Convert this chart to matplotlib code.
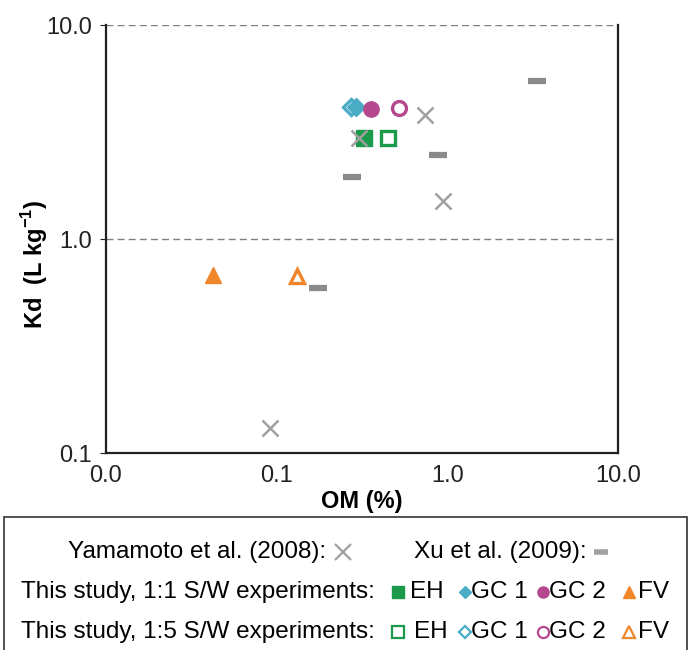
import matplotlib
matplotlib.use("Agg")
import matplotlib.pyplot as plt
from matplotlib.lines import Line2D
from matplotlib.patches import Rectangle
from matplotlib.ticker import FixedLocator, NullLocator

plt.rcParams['font.family'] = ['Liberation Sans', 'DejaVu Sans']

# Literature data
yamamoto_om = [0.091, 0.305, 0.74, 0.94]
yamamoto_kd = [0.131, 2.97, 3.79, 1.51]
xu_om = [3.35, 0.88, 0.276, 0.175]
xu_kd = [5.47, 2.47, 1.95, 0.59]

# This study (EH, GC 1, GC 2, FV)
soils = ["EH", "GC 1", "GC 2", "FV"]
om_11 = [0.325, 0.290, 0.356, 0.0424]
kd_11 = [2.97, 4.14, 4.05, 0.68]
om_15 = [0.449, 0.272, 0.52, 0.132]
kd_15 = [2.97, 4.14, 4.10, 0.67]

colors = ["#1a9a4a", "#4bacc6", "#b5478f", "#f0862a"]
markers = ["s", "D", "o", "^"]
sizes = [11, 9, 11, 11]

x_ticks = [0.01, 0.1, 1.0, 10.0]
x_labels = ["0.0", "0.1", "1.0", "10.0"]
y_ticks = [0.1, 1.0, 10.0]
y_labels = ["0.1", "1.0", "10.0"]

fig = plt.figure(figsize=(6.9, 6.5), dpi=100)
ax = fig.add_axes([106/690, 1 - 453/650, 512/690, 428/650])
ax.set_xscale('log')
ax.set_yscale('log')
ax.set_xlim(0.01, 10)
ax.set_ylim(0.1, 10)

for y in [1.0, 10.0]:
    ax.axhline(y, color='#808080', linestyle=(0, (5, 3)), linewidth=1, zorder=0)

ax.plot(yamamoto_om, yamamoto_kd, 'x', color='#a0a0a0', markersize=12, markeredgewidth=1.8, linestyle='none', zorder=6)
ax.plot(xu_om, xu_kd, linestyle='none', marker='_', color='#8a8a8a', markersize=12.5, markeredgewidth=4.5, zorder=3)

# 1:5 open markers first, filled on top
for i in range(4):
    ax.plot(om_15[i], kd_15[i], marker=markers[i], markersize=sizes[i] - 1, markerfacecolor='white',
            markeredgecolor=colors[i], markeredgewidth=2.4, linestyle='none', zorder=4)
for i in range(4):
    ax.plot(om_11[i], kd_11[i], marker=markers[i], markersize=sizes[i], color=colors[i],
            linestyle='none', zorder=5)

ax.xaxis.set_major_locator(FixedLocator(x_ticks))
ax.xaxis.set_minor_locator(NullLocator())
ax.set_xticklabels(x_labels)
ax.yaxis.set_major_locator(FixedLocator(y_ticks))
ax.yaxis.set_minor_locator(NullLocator())
ax.set_yticklabels(y_labels)
ax.tick_params(axis='x', length=0, labelsize=17, pad=9, colors='#222222')
ax.tick_params(axis='y', length=4, labelsize=17, pad=6, colors='#222222')
for s in ax.spines.values():
    s.set_linewidth(1.6)
    s.set_color('#222222')
ax.spines['top'].set_visible(False)

ax.set_xlabel('OM (%)', fontsize=17, fontweight='bold', labelpad=2)
ax.set_ylabel('Kd  (L kg$^{\\mathregular{-1}}$)', fontsize=17, fontweight='bold')
ax.yaxis.set_label_coords(-0.11, 0.44)

# Legend box
fig.add_artist(Rectangle((4/690, -0.01), 683/690, 1 - 517/650 + 0.01, transform=fig.transFigure,
                         fill=False, edgecolor='#333333', linewidth=1.2))


def fx(px):
    return px / 690


def fy(py):
    return 1 - py / 650


def legend_marker(px, py, **kw):
    fig.add_artist(Line2D([fx(px)], [fy(py)], transform=fig.transFigure, linestyle='none', **kw))


lfs = 17.5
r1, r2, r3 = 552, 592, 632
fig.text(fx(326), fy(r1), "Yamamoto et al. (2008):", ha='right', va='center', fontsize=lfs)
legend_marker(343, r1, marker='x', color='#a0a0a0', markersize=11, markeredgewidth=1.6)
fig.text(fx(587), fy(r1), "Xu et al. (2009):", ha='right', va='center', fontsize=lfs)
legend_marker(601, r1, marker='_', color='#a0a0a0', markersize=10, markeredgewidth=4)

fig.text(fx(375), fy(r2), "This study, 1:1 S/W experiments:", ha='right', va='center', fontsize=lfs)
fig.text(fx(375), fy(r3), "This study, 1:5 S/W experiments:", ha='right', va='center', fontsize=lfs)
marker_x = [398, 465, 543, 629]
label_x = [[410, 471, 549, 638], [414, 471, 549, 638]]
for i in range(4):
    legend_marker(marker_x[i], r2, marker=markers[i], color=colors[i], markersize=sizes[i] - 3)
    legend_marker(marker_x[i], r3, marker=markers[i], markerfacecolor='white', markeredgecolor=colors[i],
                  markeredgewidth=1.6, markersize=sizes[i] - 3)
    fig.text(fx(label_x[0][i]), fy(r2), soils[i], ha='left', va='center', fontsize=lfs)
    fig.text(fx(label_x[1][i]), fy(r3), soils[i], ha='left', va='center', fontsize=lfs)

fig.savefig('out.png', dpi=100)
